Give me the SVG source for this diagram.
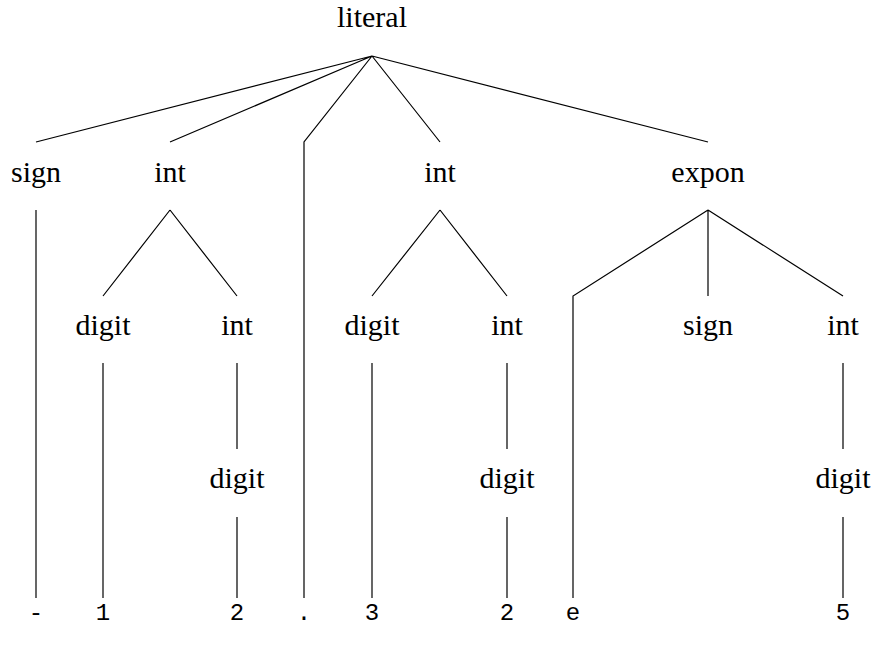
<svg xmlns="http://www.w3.org/2000/svg" width="873" height="645" viewBox="0 0 873 645">
<style>
.n{font-family:"Liberation Serif","Times New Roman",serif;font-size:30px;fill:#000;text-anchor:middle}
.t{font-family:"Liberation Mono","Courier New",monospace;font-size:24px;fill:#000;text-anchor:middle}
.e{fill:none;stroke:#000;stroke-width:1.2}
</style>
<rect width="873" height="645" fill="#fff"/>
<g id="edges" class="e">
<path d="M372,56L36,142M372,56L170,142M372,56L304,142L304,598M372,56L440,142M372,56L708,142"/>
<path d="M36,210L36,598"/>
<path d="M170,210L103,296M170,210L237,296"/>
<path d="M103,363L103,598"/>
<path d="M237,363L237,449M237,517L237,598"/>
<path d="M440,210L372,296M440,210L507,296"/>
<path d="M372,363L372,598"/>
<path d="M507,363L507,449M507,517L507,598"/>
<path d="M708,210L573,296L573,598M708,210L708,296M708,210L843,296"/>
<path d="M843,363L843,449M843,517L843,598"/>
</g>
<g id="literal"><text class="n" x="372" y="27">literal</text></g>
<g id="sign1"><text class="n" x="36" y="182">sign</text></g>
<g id="int1"><text class="n" x="170" y="182">int</text></g>
<g id="int2"><text class="n" x="440" y="182">int</text></g>
<g id="expon"><text class="n" x="708" y="182">expon</text></g>
<g id="digit1"><text class="n" x="103" y="335">digit</text></g>
<g id="int3"><text class="n" x="237" y="335">int</text></g>
<g id="digit2"><text class="n" x="372" y="335">digit</text></g>
<g id="int4"><text class="n" x="507" y="335">int</text></g>
<g id="sign2"><text class="n" x="708" y="335">sign</text></g>
<g id="int5"><text class="n" x="843" y="335">int</text></g>
<g id="digit3"><text class="n" x="237" y="488">digit</text></g>
<g id="digit4"><text class="n" x="507" y="488">digit</text></g>
<g id="digit5"><text class="n" x="843" y="488">digit</text></g>
<g id="leaf-minus"><text class="t" x="36" y="620">-</text></g>
<g id="leaf-1"><text class="t" x="103" y="620">1</text></g>
<g id="leaf-2a"><text class="t" x="237" y="620">2</text></g>
<g id="leaf-dot"><text class="t" x="304" y="620">.</text></g>
<g id="leaf-3"><text class="t" x="372" y="620">3</text></g>
<g id="leaf-2b"><text class="t" x="507" y="620">2</text></g>
<g id="leaf-e"><text class="t" x="573" y="620">e</text></g>
<g id="leaf-5"><text class="t" x="843" y="620">5</text></g>
</svg>
